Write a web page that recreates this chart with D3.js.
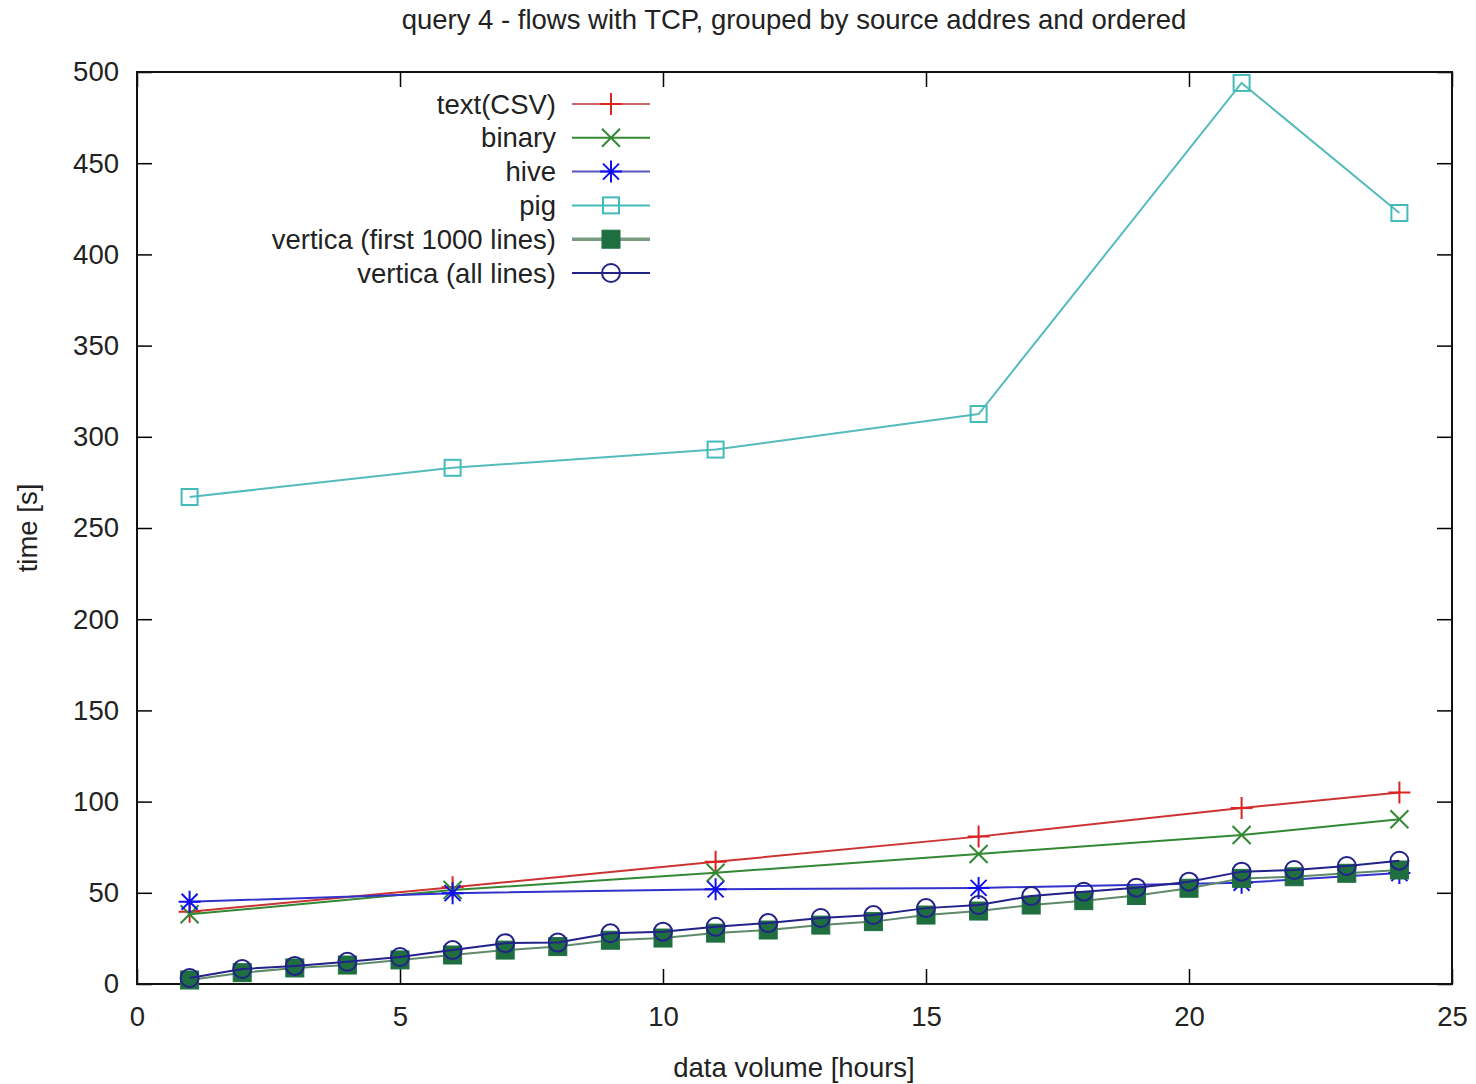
<!DOCTYPE html>
<html>
<head>
<meta charset="utf-8">
<script src="https://cdn.jsdelivr.net/npm/d3@7"></script>
<style>
body { margin: 0; background: #fff; }
text { font-family: "Liberation Sans", Arial, sans-serif; fill: #222; }
</style>
</head>
<body>
<div id="chart"></div>
<script>
// data
var seriesNames = ["text(CSV)", "binary", "hive", "pig", "vertica (first 1000 lines)", "vertica (all lines)"];
var hoursSparse = [1, 6, 11, 16, 21, 24];
var hoursDense = [1,2,3,4,5,6,7,8,9,10,11,12,13,14,15,16,17,18,19,20,21,22,23,24];
var textCsv = [39.6, 53, 67, 80.8, 96.5, 105];
var binary = [38.2, 51.5, 61, 71.3, 81.7, 90.3];
var hive = [45.1, 49.8, 51.9, 52.7, 55.5, 60.8];
var pig = [267, 283, 293, 312.5, 494, 422.7];
var vertica1000 = [2.2, 6.2, 8.8, 10.4, 13.2, 15.9, 18.6, 20.5, 24, 25.2, 27.9, 29.6, 32.3, 34.2, 37.8, 40, 43.3, 45.7, 48.5, 52.5, 57.9, 58.8, 60.7, 62.5];
var verticaAll = [3.3, 8.2, 9.9, 12.2, 14.8, 18.6, 22.4, 22.7, 27.8, 28.7, 31.4, 33.4, 36.2, 37.8, 41.6, 43.3, 48.2, 50.6, 52.8, 56.1, 61.6, 62.5, 64.7, 67.6];
var xTicks = [0, 5, 10, 15, 20, 25];
var yTicks = [0, 50, 100, 150, 200, 250, 300, 350, 400, 450, 500];

var W = 1476, H = 1084;
var margin = {top: 72, right: 24, bottom: 100, left: 137};
var width = W - margin.left - margin.right,
    height = H - margin.top - margin.bottom;
var fs = "27.5px";

var series = [
  {name: seriesNames[0], xs: hoursSparse, ys: textCsv, line: "#cc3333", mark: "plus", mcol: "#dd2222", lline: "#cc6666"},
  {name: seriesNames[1], xs: hoursSparse, ys: binary, line: "#338833", mark: "cross", mcol: "#338833", lline: "#338833"},
  {name: seriesNames[2], xs: hoursSparse, ys: hive, line: "#3333cc", mark: "star", mcol: "#1111ee", lline: "#5555bb"},
  {name: seriesNames[3], xs: hoursSparse, ys: pig, line: "#55bbbb", mark: "square", mcol: "#44bbbb", lline: "#44bbbb"},
  {name: seriesNames[4], xs: hoursDense, ys: vertica1000, line: "#5f8a6a", mark: "fsquare", mcol: "#1e6e40", lline: "#7a9a82"},
  {name: seriesNames[5], xs: hoursDense, ys: verticaAll, line: "#22228a", mark: "circle", mcol: "#22228a", lline: "#22228a"}
];

var svg = d3.select("#chart").append("svg")
  .attr("width", W).attr("height", H);
var g = svg.append("g").attr("transform", "translate(" + margin.left + "," + margin.top + ")");

var x = d3.scaleLinear().domain([0, 25]).range([0, width]);
var y = d3.scaleLinear().domain([0, 500]).range([height, 0]);

// ticks (inward, mirrored)
var tl = 15;
var xAxisB = d3.axisBottom(x).tickValues(xTicks).tickSize(-tl).tickPadding(22).tickFormat(d3.format("d"));
var xAxisT = d3.axisTop(x).tickValues(xTicks).tickSize(-tl).tickFormat("");
var yAxisL = d3.axisLeft(y).tickValues(yTicks).tickSize(-tl).tickPadding(18).tickFormat(d3.format("d"));
var yAxisR = d3.axisRight(y).tickValues(yTicks).tickSize(-tl).tickFormat("");

function styleAxis(sel) {
  sel.select(".domain").remove();
  sel.selectAll(".tick line").attr("stroke", "#000").attr("stroke-width", 1.5);
  sel.selectAll(".tick text").style("font-size", fs).attr("fill", "#222");
}
g.append("g").attr("transform", "translate(0," + height + ")").call(xAxisB).call(styleAxis);
g.append("g").call(xAxisT).call(styleAxis);
g.append("g").call(yAxisL).call(styleAxis);
g.append("g").attr("transform", "translate(" + width + ",0)").call(yAxisR).call(styleAxis);

// frame
g.append("rect").attr("width", width).attr("height", height)
  .attr("fill", "none").attr("stroke", "#111").attr("stroke-width", 2);

// markers
function drawMark(sel, type, col) {
  if (type == "plus") {
    sel.append("path").attr("d", "M-11,0H11M0,-11V11").attr("stroke", col).attr("stroke-width", 2).attr("fill", "none");
  } else if (type == "cross") {
    sel.append("path").attr("d", "M-9,-9L9,9M-9,9L9,-9").attr("stroke", col).attr("stroke-width", 2).attr("fill", "none");
  } else if (type == "star") {
    sel.append("path").attr("d", "M-11,0H11M0,-11V11M-8,-8L8,8M-8,8L8,-8").attr("stroke", col).attr("stroke-width", 2).attr("fill", "none");
  } else if (type == "square") {
    sel.append("rect").attr("x", -8).attr("y", -8).attr("width", 16).attr("height", 16)
      .attr("fill", "none").attr("stroke", col).attr("stroke-width", 2);
  } else if (type == "fsquare") {
    sel.append("rect").attr("x", -9).attr("y", -9).attr("width", 18).attr("height", 18)
      .attr("fill", col).attr("stroke", col).attr("stroke-width", 1);
  } else if (type == "circle") {
    sel.append("circle").attr("r", 9).attr("fill", "none").attr("stroke", col).attr("stroke-width", 2);
  }
}

var line = d3.line().x(function(d){ return x(d[0]); }).y(function(d){ return y(d[1]); });

series.forEach(function(s) {
  var pts = s.xs.map(function(v, i){ return [v, s.ys[i]]; });
  g.append("path").datum(pts).attr("d", line)
    .attr("fill", "none").attr("stroke", s.line).attr("stroke-width", 2);
  g.selectAll(null).data(pts).enter().append("g")
    .attr("transform", function(d){ return "translate(" + x(d[0]) + "," + y(d[1]) + ")"; })
    .each(function(){ drawMark(d3.select(this), s.mark, s.mcol); });
});

// legend
var leg = svg.append("g").attr("transform", "translate(0,104)");
series.forEach(function(s, i) {
  var row = leg.append("g").attr("transform", "translate(0," + (i * 33.8) + ")");
  row.append("text").attr("x", 556).attr("y", 0).attr("dy", "0.35em")
    .attr("text-anchor", "end").style("font-size", fs).text(s.name);
  row.append("line").attr("x1", 572).attr("x2", 650)
    .attr("stroke", s.lline).attr("stroke-width", s.mark == "fsquare" ? 3.5 : 2);
  var m = row.append("g").attr("transform", "translate(611,0)");
  drawMark(m, s.mark, s.mcol);
});

// titles
svg.append("text").attr("x", 794).attr("y", 29).attr("text-anchor", "middle")
  .style("font-size", fs).text("query 4 - flows with TCP, grouped by source addres and ordered");
svg.append("text").attr("x", 794).attr("y", 1077).attr("text-anchor", "middle")
  .style("font-size", fs).text("data volume [hours]");
svg.append("text").attr("transform", "translate(37,528) rotate(-90)").attr("text-anchor", "middle")
  .style("font-size", fs).text("time [s]");
</script>
</body>
</html>
